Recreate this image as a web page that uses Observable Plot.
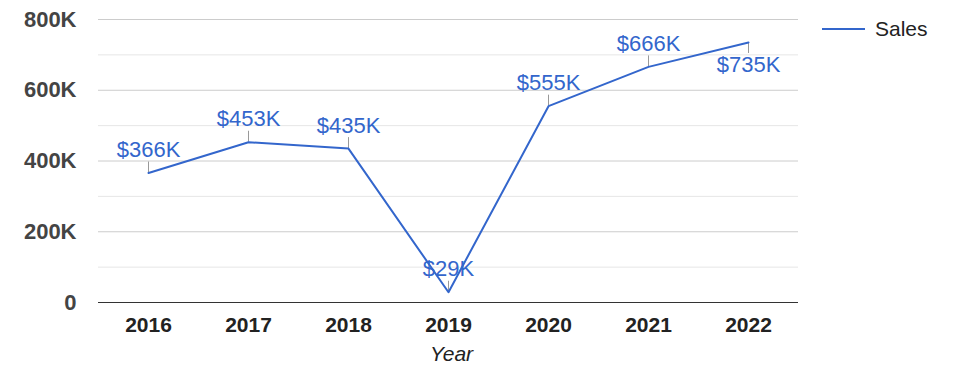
<!DOCTYPE html>
<html>
<head>
<meta charset="utf-8">
<script src="https://cdn.jsdelivr.net/npm/d3@7"></script>
<script src="https://cdn.jsdelivr.net/npm/@observablehq/plot@0.6"></script>
<style>
  html, body { margin: 0; padding: 0; background: #fff; }
  #wrap { position: relative; width: 975px; height: 378px; font-family: Arial, "Liberation Sans", sans-serif; }
  #legend { position: absolute; left: 822px; top: 17px; display: flex; align-items: center; font-size: 21px; color: #222; }
  #legend .sw { width: 43px; height: 2px; background: #3366cc; margin-right: 10px; }
</style>
</head>
<body>
<div id="wrap"><div id="legend"><span class="sw"></span><span>Sales</span></div></div>
<script>
const years = ["2016", "2017", "2018", "2019", "2020", "2021", "2022"];
const sales = [366000, 453000, 435000, 29000, 555000, 666000, 735000];
const labels = ["$366K", "$453K", "$435K", "$29K", "$555K", "$666K", "$735K"];
const labelBelow = [false, false, false, false, false, false, true];
const majorTicks = [0, 200000, 400000, 600000, 800000];
const minorTicks = [100000, 300000, 500000, 700000];
const seriesName = "Sales";
const xTitle = "Year";

const data = years.map((y, i) => ({year: y, value: sales[i], label: labels[i], below: labelBelow[i]}));

const H = 378, mTop = 19, mBottom = 76;
const yMax = 800000;
const pxPerUnit = (H - mTop - mBottom) / yMax;
const stem = 11 / pxPerUnit;

const above = data.filter(d => !d.below);
const below = data.filter(d => d.below);

const chart = Plot.plot({
  width: 975,
  height: H,
  marginTop: mTop,
  marginBottom: mBottom,
  marginLeft: 98,
  marginRight: 177,
  style: {fontFamily: "Arial, 'Liberation Sans', sans-serif", fontSize: "21px", background: "#fff"},
  x: {type: "point", domain: years, padding: 0.5, label: null},
  y: {domain: [0, yMax], label: null},
  marks: [
    Plot.ruleY(minorTicks, {stroke: "#e6e6e6"}),
    Plot.ruleY(majorTicks.filter(d => d > 0), {stroke: "#cccccc"}),
    Plot.ruleY([0], {stroke: "#333"}),
    Plot.axisY({ticks: majorTicks, tickSize: 0, tickPadding: 22, tickFormat: d => d === 0 ? "0" : d / 1000 + "K", fontWeight: "bold", fill: "#444", fontSize: 22, label: null}),
    Plot.axisX({tickSize: 0, tickPadding: 15, fontWeight: "bold", fill: "#222", fontSize: 21, label: null}),
    Plot.text([xTitle], {frameAnchor: "bottom", dy: 58, dx: 3, text: d => d, fontStyle: "italic", fill: "#222", fontSize: 21}),
    Plot.ruleX(above, {x: "year", y1: "value", y2: d => d.value + stem, stroke: "#999"}),
    Plot.ruleX(below, {x: "year", y1: "value", y2: d => d.value - stem, stroke: "#999"}),
    Plot.line(data, {x: "year", y: "value", stroke: "#3366cc", strokeWidth: 2}),
    Plot.text(above, {x: "year", y: "value", text: "label", dy: -23, fill: "#3366cc", fontSize: 22}),
    Plot.text(below, {x: "year", y: "value", text: "label", dy: 22, fill: "#3366cc", fontSize: 22})
  ]
});
document.getElementById("wrap").prepend(chart);
chart.style.position = "absolute";
chart.style.left = "0";
chart.style.top = "0";
</script>
</body>
</html>
